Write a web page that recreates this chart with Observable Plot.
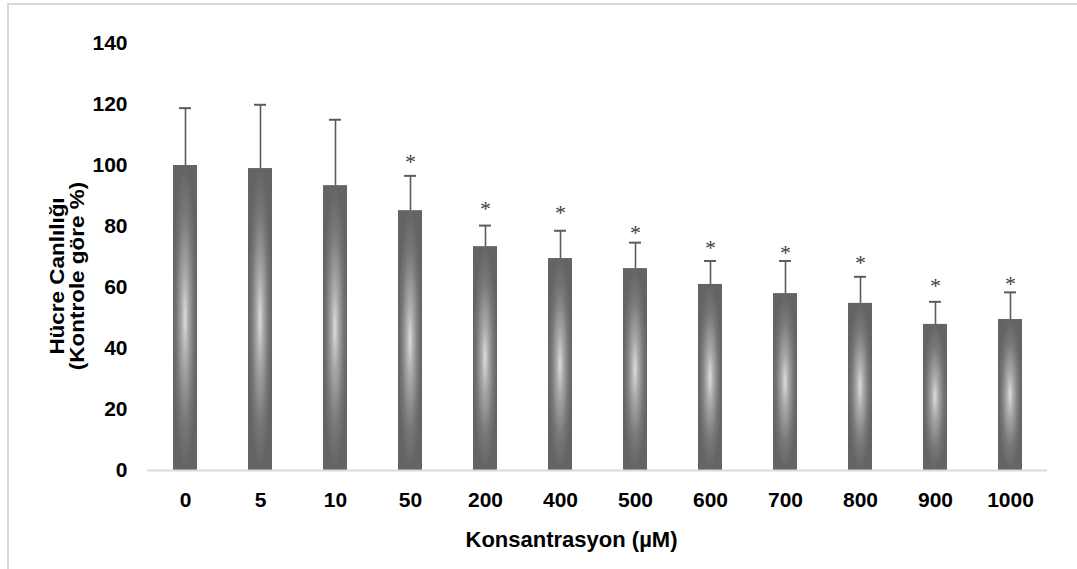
<!DOCTYPE html>
<html>
<head>
<meta charset="utf-8">
<script src="https://cdn.jsdelivr.net/npm/d3@7"></script>
<script src="https://cdn.jsdelivr.net/npm/@observablehq/plot@0.6"></script>
<style>
  html, body { margin: 0; padding: 0; background: #fff; }
  #wrap { position: relative; width: 1077px; height: 569px; overflow: hidden; }
  #frame { position: absolute; left: 7px; top: 3px; width: 1200px; height: 700px;
           border-left: 2px solid #d9d9d9; border-top: 2px solid #d9d9d9; box-sizing: border-box; }
  #chart { position: absolute; left: 0; top: 0; }
</style>
</head>
<body>
<div id="wrap"><div id="frame"></div><div id="chart"></div></div>
<script>
const categories = ["0", "5", "10", "50", "200", "400", "500", "600", "700", "800", "900", "1000"];
const means      = [100, 99.0, 93.4, 85.2, 73.4, 69.5, 66.2, 61.0, 58.0, 54.8, 47.9, 49.5];
const sds        = [18.8, 20.9, 21.6, 11.4, 6.9, 9.1, 8.5, 7.7, 10.7, 8.7, 7.4, 8.9];
const significant = [false, false, false, true, true, true, true, true, true, true, true, true];
const starY      = [null, null, null, 102.5, 87.1, 85.9, 79.1, 74.3, 72.7, 69.4, 61.7, 62.6];
const yTicks     = [0, 20, 40, 60, 80, 100, 120, 140];
const xTitle = "Konsantrasyon (µM)";
const yTitle = "Hücre Canlılığı\n(Kontrole göre %)";

const data = categories.map((c, i) => ({
  conc: c, mean: means[i], top: means[i] + sds[i], sig: significant[i], starY: starY[i]
}));
const sigData = data.filter(d => d.sig);

const defsMark = () => {
  const defs = d3.create("svg:defs");
  const g = defs.append("radialGradient")
    .attr("id", "barGrad").attr("cx", 0.5).attr("cy", 0.5).attr("r", 0.5);
  [[0, "#dcdcdc"], [0.3, "#a8a8a8"], [0.7, "#777777"], [1, "#646464"]].forEach(([o, c]) =>
    g.append("stop").attr("offset", o).attr("stop-color", c));
  return defs.node();
};

const font = "'Liberation Sans', Arial, Helvetica, sans-serif";

const plot = Plot.plot({
  width: 1077,
  height: 569,
  marginLeft: 147,
  marginRight: 30,
  marginTop: 43,
  marginBottom: 99,
  style: { fontFamily: font, fontSize: "21px", fontWeight: "bold", color: "#000", background: "transparent" },
  x: { domain: categories, paddingInner: 0.68, paddingOuter: 0.34, label: null },
  y: { domain: [0, 140], label: null },
  marks: [
    defsMark,
    Plot.barY(data, { x: "conc", y: "mean", fill: "url(#barGrad)" }),
    Plot.ruleY([0], { stroke: "#d9d9d9", strokeWidth: 2 }),
    Plot.ruleX(data, { x: "conc", y1: "mean", y2: "top", stroke: "#5c5c5c", strokeWidth: 1.6 }),
    Plot.tickY(data, { x: "conc", y: "top", stroke: "#5c5c5c", strokeWidth: 2, insetLeft: 6, insetRight: 6 }),
    Plot.text(sigData, { x: "conc", y: "starY", text: () => "*", fill: "#404040",
      fontFamily: "'Liberation Serif', 'Times New Roman', serif", fontWeight: "normal", fontSize: 22, dy: 4 }),
    Plot.axisY({ ticks: yTicks, tickSize: 0, tickPadding: 20, label: null, fill: "#000", fontSize: 21 }),
    Plot.axisX({ tickSize: 0, tickPadding: 22, label: null, fill: "#000", fontSize: 21 }),
    Plot.text([xTitle], { text: d => d, frameAnchor: "bottom", dx: -26, dy: 76, fontSize: 22, fill: "#000" }),
    Plot.text([yTitle], { text: d => d, frameAnchor: "left", textAnchor: "middle", rotate: -90,
      dx: -80, dy: 19, fontSize: 21, lineHeight: 0.95, fill: "#000", className: "ytitle" })
  ]
});
// slightly stretch the rotated y title along its length, as in the reference
d3.select(plot).selectAll(".ytitle text").each(function () {
  const t = this.getAttribute("transform") || "";
  this.setAttribute("transform", t + " scale(1.07,1)");
});
document.getElementById("chart").appendChild(plot);
</script>
</body>
</html>
